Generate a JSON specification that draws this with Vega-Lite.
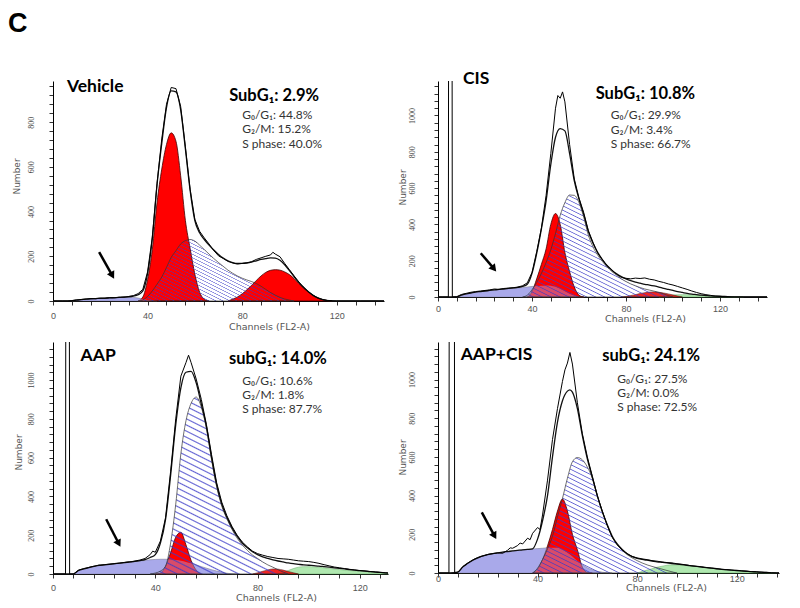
{
"$schema": "https://vega.github.io/schema/vega-lite/v6.json",
"title": {"text": "C", "anchor": "start", "font": "Liberation Sans", "fontSize": 27, "fontWeight": "bold", "color": "#000", "offset": 32, "dx": -4},
"padding": {"left": 8, "top": 10, "right": 5, "bottom": 5},
"columns": 2,
"spacing": {"row": 41, "column": 50},
"bounds": "flush",
"concat": [
{
"width": 331, "height": 220,
"data": {"values": [
{"x":0,"h":0,"f":0},{"x":2,"h":0,"f":0},{"x":4,"h":0,"f":0},{"x":6,"h":0,"f":0},
{"x":8,"h":2,"f":1,"d":0},{"x":10,"h":5,"f":4,"d":4},{"x":12,"h":7,"f":6,"d":6},{"x":14,"h":9,"f":8,"d":8},
{"x":16,"h":11,"f":10,"d":10},{"x":18,"h":10,"f":11,"d":11},{"x":20,"h":13,"f":12,"d":12},{"x":22,"h":12,"f":13,"d":13},
{"x":24,"h":15,"f":14,"d":14},{"x":26,"h":14,"f":15,"d":15},{"x":28,"h":17,"f":16,"d":16},{"x":30,"h":16,"f":18,"d":17},
{"x":32,"h":20,"f":19,"d":17},{"x":34,"h":24,"f":22,"d":16},{"x":36,"h":33,"f":28,"d":13,"g1":0,"s":0},
{"x":38,"h":52,"f":45,"d":9,"g1":18,"s":5},{"x":40,"h":130,"f":122,"d":5,"g1":95,"s":20},
{"x":42,"h":285,"f":280,"d":2,"g1":230,"s":45},{"x":44,"h":525,"f":520,"d":0,"g1":440,"s":75},
{"x":46,"h":725,"f":705,"g1":590,"s":107},{"x":48,"h":880,"f":865,"g1":700,"s":150},
{"x":50,"h":955,"f":940,"g1":752,"s":195},{"x":52,"h":950,"f":935,"g1":715,"s":225},
{"x":54,"h":870,"f":855,"g1":560,"s":255},{"x":56,"h":690,"f":680,"g1":360,"s":270},
{"x":58,"h":500,"f":495,"g1":235,"s":275},{"x":60,"h":365,"f":360,"g1":120,"s":268},
{"x":62,"h":312,"f":305,"g1":40,"s":250},{"x":64,"h":282,"f":275,"g1":8,"s":230},
{"x":66,"h":255,"f":250,"g1":0,"s":210},{"x":68,"h":226,"f":228,"s":190},{"x":70,"h":202,"f":208,"s":172},
{"x":72,"h":190,"f":192,"s":155},{"x":74,"h":177,"f":180,"s":138,"g2":0},{"x":76,"h":170,"f":172,"s":124,"g2":8},
{"x":78,"h":165,"f":168,"s":112,"g2":18},{"x":80,"h":168,"f":168,"s":102,"g2":32},{"x":82,"h":171,"f":170,"s":94,"g2":50},
{"x":84,"h":176,"f":174,"s":87,"g2":70},{"x":86,"h":186,"f":180,"s":78,"g2":92},{"x":88,"h":193,"f":186,"s":66,"g2":112},
{"x":90,"h":200,"f":190,"s":52,"g2":128},{"x":92,"h":206,"f":193,"s":38,"g2":137},{"x":93,"h":218},{"x":94,"h":210,"f":192,"s":26,"g2":140},
{"x":96,"h":198,"f":182,"s":16,"g2":138},{"x":98,"h":168,"f":162,"s":9,"g2":130},{"x":100,"h":140,"f":136,"s":4,"g2":118},
{"x":102,"h":112,"f":108,"s":0,"g2":100},{"x":104,"h":85,"f":82,"g2":78},{"x":106,"h":62,"f":60,"g2":58},
{"x":108,"h":42,"f":41,"g2":40},{"x":110,"h":26,"f":25,"g2":25},{"x":112,"h":14,"f":14,"g2":13},
{"x":114,"h":7,"f":6,"g2":6},{"x":116,"h":3,"f":2,"g2":2},{"x":118,"h":1,"f":0,"g2":0},
{"x":120,"h":0,"f":0},{"x":130,"h":0,"f":0},{"x":140,"h":0,"f":0}
]},
"layer": [
{"mark": {"type": "area", "interpolate": "monotone", "fill": "#a9a9ea", "stroke": "#666", "strokeWidth": 0.5},
 "encoding": {
  "x": {"field": "x", "type": "quantitative", "title": "Channels (FL2-A)", "scale": {"domain": [0, 140], "nice": false, "zero": false},
   "axis": {"values": [0,8,16,24,32,40,48,56,64,72,80,88,96,104,112,120,128,136], "labelExpr": "datum.value % 40 === 0 ? datum.label : ''", "labelPadding": 6, "titleX": 216, "titleY": 25}},
  "y": {"field": "d", "type": "quantitative", "title": "Number", "scale": {"domain": [0, 984], "nice": false},
  "axis": {"values": [0,40,80,120,160,200,240,280,320,360,400,440,480,520,560,600,640,680,720,760,800,840,880,920,960], "labelExpr": "datum.value % 200 === 0 ? datum.label : ''", "labelPadding": 14, "titleX": -37, "titleY": 95}}}},
{"mark": {"type": "area", "interpolate": "monotone", "fill": "#ff0000", "stroke": "#400000", "strokeWidth": 0.8},
 "encoding": {"x": {"field": "x", "type": "quantitative", "title": "Channels (FL2-A)"}, "y": {"field": "g1", "type": "quantitative", "title": "Number"}}},
{"mark": {"type": "area", "interpolate": "monotone", "fill": "#ff0000", "stroke": "#400000", "strokeWidth": 0.8},
 "encoding": {"x": {"field": "x", "type": "quantitative", "title": "Channels (FL2-A)"}, "y": {"field": "g2", "type": "quantitative", "title": "Number"}}},
{"mark": {"type": "area", "interpolate": "monotone", "fill": "#a9a9ea", "opacity": 0.45},
 "encoding": {"x": {"field": "x", "type": "quantitative", "title": "Channels (FL2-A)"}, "y": {"field": "d", "type": "quantitative", "title": "Number"}}},
{"mark": {"type": "area", "interpolate": "monotone", "stroke": "#333", "strokeWidth": 0.7,
  "fill": {"gradient": "linear", "x1": 0, "y1": 1, "x2": 1.103, "y2": 0.131, "stops": [
{"offset":0,"color":"rgba(60,60,200,0)"},{"offset":0.005,"color":"rgba(60,60,200,0.8)"},{"offset":0.01,"color":"rgba(60,60,200,0)"},{"offset":0.025,"color":"rgba(60,60,200,0)"},{"offset":0.03,"color":"rgba(60,60,200,0.8)"},{"offset":0.035,"color":"rgba(60,60,200,0)"},{"offset":0.05,"color":"rgba(60,60,200,0)"},{"offset":0.055,"color":"rgba(60,60,200,0.8)"},{"offset":0.06,"color":"rgba(60,60,200,0)"},{"offset":0.075,"color":"rgba(60,60,200,0)"},{"offset":0.08,"color":"rgba(60,60,200,0.8)"},{"offset":0.085,"color":"rgba(60,60,200,0)"},{"offset":0.1,"color":"rgba(60,60,200,0)"},{"offset":0.105,"color":"rgba(60,60,200,0.8)"},{"offset":0.11,"color":"rgba(60,60,200,0)"},{"offset":0.125,"color":"rgba(60,60,200,0)"},{"offset":0.13,"color":"rgba(60,60,200,0.8)"},{"offset":0.135,"color":"rgba(60,60,200,0)"},{"offset":0.15,"color":"rgba(60,60,200,0)"},{"offset":0.155,"color":"rgba(60,60,200,0.8)"},{"offset":0.16,"color":"rgba(60,60,200,0)"},{"offset":0.175,"color":"rgba(60,60,200,0)"},{"offset":0.18,"color":"rgba(60,60,200,0.8)"},{"offset":0.185,"color":"rgba(60,60,200,0)"},{"offset":0.2,"color":"rgba(60,60,200,0)"},{"offset":0.205,"color":"rgba(60,60,200,0.8)"},{"offset":0.21,"color":"rgba(60,60,200,0)"},{"offset":0.225,"color":"rgba(60,60,200,0)"},{"offset":0.23,"color":"rgba(60,60,200,0.8)"},{"offset":0.235,"color":"rgba(60,60,200,0)"},{"offset":0.25,"color":"rgba(60,60,200,0)"},{"offset":0.255,"color":"rgba(60,60,200,0.8)"},{"offset":0.26,"color":"rgba(60,60,200,0)"},{"offset":0.275,"color":"rgba(60,60,200,0)"},{"offset":0.28,"color":"rgba(60,60,200,0.8)"},{"offset":0.285,"color":"rgba(60,60,200,0)"},{"offset":0.3,"color":"rgba(60,60,200,0)"},{"offset":0.305,"color":"rgba(60,60,200,0.8)"},{"offset":0.31,"color":"rgba(60,60,200,0)"},{"offset":0.325,"color":"rgba(60,60,200,0)"},{"offset":0.33,"color":"rgba(60,60,200,0.8)"},{"offset":0.335,"color":"rgba(60,60,200,0)"},{"offset":0.35,"color":"rgba(60,60,200,0)"},{"offset":0.355,"color":"rgba(60,60,200,0.8)"},{"offset":0.36,"color":"rgba(60,60,200,0)"},{"offset":0.375,"color":"rgba(60,60,200,0)"},{"offset":0.38,"color":"rgba(60,60,200,0.8)"},{"offset":0.385,"color":"rgba(60,60,200,0)"},{"offset":0.4,"color":"rgba(60,60,200,0)"},{"offset":0.405,"color":"rgba(60,60,200,0.8)"},{"offset":0.41,"color":"rgba(60,60,200,0)"},{"offset":0.425,"color":"rgba(60,60,200,0)"},{"offset":0.43,"color":"rgba(60,60,200,0.8)"},{"offset":0.435,"color":"rgba(60,60,200,0)"},{"offset":0.45,"color":"rgba(60,60,200,0)"},{"offset":0.455,"color":"rgba(60,60,200,0.8)"},{"offset":0.46,"color":"rgba(60,60,200,0)"},{"offset":0.475,"color":"rgba(60,60,200,0)"},{"offset":0.48,"color":"rgba(60,60,200,0.8)"},{"offset":0.485,"color":"rgba(60,60,200,0)"},{"offset":0.5,"color":"rgba(60,60,200,0)"},{"offset":0.505,"color":"rgba(60,60,200,0.8)"},{"offset":0.51,"color":"rgba(60,60,200,0)"},{"offset":0.525,"color":"rgba(60,60,200,0)"},{"offset":0.53,"color":"rgba(60,60,200,0.8)"},{"offset":0.535,"color":"rgba(60,60,200,0)"},{"offset":0.55,"color":"rgba(60,60,200,0)"},{"offset":0.555,"color":"rgba(60,60,200,0.8)"},{"offset":0.56,"color":"rgba(60,60,200,0)"},{"offset":0.575,"color":"rgba(60,60,200,0)"},{"offset":0.58,"color":"rgba(60,60,200,0.8)"},{"offset":0.585,"color":"rgba(60,60,200,0)"},{"offset":0.6,"color":"rgba(60,60,200,0)"},{"offset":0.605,"color":"rgba(60,60,200,0.8)"},{"offset":0.61,"color":"rgba(60,60,200,0)"},{"offset":0.625,"color":"rgba(60,60,200,0)"},{"offset":0.63,"color":"rgba(60,60,200,0.8)"},{"offset":0.635,"color":"rgba(60,60,200,0)"},{"offset":0.65,"color":"rgba(60,60,200,0)"},{"offset":0.655,"color":"rgba(60,60,200,0.8)"},{"offset":0.66,"color":"rgba(60,60,200,0)"},{"offset":0.675,"color":"rgba(60,60,200,0)"},{"offset":0.68,"color":"rgba(60,60,200,0.8)"},{"offset":0.685,"color":"rgba(60,60,200,0)"},{"offset":0.7,"color":"rgba(60,60,200,0)"},{"offset":0.705,"color":"rgba(60,60,200,0.8)"},{"offset":0.71,"color":"rgba(60,60,200,0)"},{"offset":0.725,"color":"rgba(60,60,200,0)"},{"offset":0.73,"color":"rgba(60,60,200,0.8)"},{"offset":0.735,"color":"rgba(60,60,200,0)"},{"offset":0.75,"color":"rgba(60,60,200,0)"},{"offset":0.755,"color":"rgba(60,60,200,0.8)"},{"offset":0.76,"color":"rgba(60,60,200,0)"},{"offset":0.775,"color":"rgba(60,60,200,0)"},{"offset":0.78,"color":"rgba(60,60,200,0.8)"},{"offset":0.785,"color":"rgba(60,60,200,0)"},{"offset":0.8,"color":"rgba(60,60,200,0)"},{"offset":0.805,"color":"rgba(60,60,200,0.8)"},{"offset":0.81,"color":"rgba(60,60,200,0)"},{"offset":0.825,"color":"rgba(60,60,200,0)"},{"offset":0.83,"color":"rgba(60,60,200,0.8)"},{"offset":0.835,"color":"rgba(60,60,200,0)"},{"offset":0.85,"color":"rgba(60,60,200,0)"},{"offset":0.855,"color":"rgba(60,60,200,0.8)"},{"offset":0.86,"color":"rgba(60,60,200,0)"},{"offset":0.875,"color":"rgba(60,60,200,0)"},{"offset":0.88,"color":"rgba(60,60,200,0.8)"},{"offset":0.885,"color":"rgba(60,60,200,0)"},{"offset":0.9,"color":"rgba(60,60,200,0)"},{"offset":0.905,"color":"rgba(60,60,200,0.8)"},{"offset":0.91,"color":"rgba(60,60,200,0)"},{"offset":0.925,"color":"rgba(60,60,200,0)"},{"offset":0.93,"color":"rgba(60,60,200,0.8)"},{"offset":0.935,"color":"rgba(60,60,200,0)"},{"offset":0.95,"color":"rgba(60,60,200,0)"},{"offset":0.955,"color":"rgba(60,60,200,0.8)"},{"offset":0.96,"color":"rgba(60,60,200,0)"},{"offset":0.975,"color":"rgba(60,60,200,0)"},{"offset":0.98,"color":"rgba(60,60,200,0.8)"},{"offset":0.985,"color":"rgba(60,60,200,0)"},{"offset":1,"color":"rgba(60,60,200,0)"}]}},
 "encoding": {"x": {"field": "x", "type": "quantitative", "title": "Channels (FL2-A)"}, "y": {"field": "s", "type": "quantitative", "title": "Number"}}},
{"mark": {"type": "line", "interpolate": "monotone", "color": "#111", "strokeWidth": 1.3},
 "encoding": {"x": {"field": "x", "type": "quantitative", "title": "Channels (FL2-A)"}, "y": {"field": "f", "type": "quantitative", "title": "Number"}}},
{"mark": {"type": "line", "color": "#000", "strokeWidth": 1, "clip": true},
 "encoding": {"x": {"field": "x", "type": "quantitative", "title": "Channels (FL2-A)"}, "y": {"field": "h", "type": "quantitative", "title": "Number"}}},
{"data": {"values": [{"t": "Vehicle"}]},
 "mark": {"type": "text", "align": "left", "baseline": "alphabetic", "font": "Lato", "fontSize": 17.5, "fontWeight": "bold", "color": "#000"},
 "encoding": {"x": {"datum": 5.9}, "y": {"datum": 934}, "text": {"field": "t"}}},
{"data": {"values": [{"t": "SubG₁: 2.9%"}]},
 "mark": {"type": "text", "align": "left", "baseline": "alphabetic", "font": "Lato", "fontSize": 16.5, "fontWeight": "bold", "color": "#000"},
 "encoding": {"x": {"datum": 74.5}, "y": {"datum": 893}, "text": {"field": "t"}}},
{"data": {"values": [{"t": "G₀/G₁: 44.8%\nG₂/M: 15.2%\nS phase: 40.0%"}]},
 "mark": {"type": "text", "align": "left", "baseline": "alphabetic", "font": "Lato", "fontSize": 12, "color": "#333", "lineBreak": "\n", "lineHeight": 14.2},
 "encoding": {"x": {"datum": 80}, "y": {"datum": 813}, "text": {"field": "t"}}},
{"data": {"values": [{"k": "arrow"}]},
 "mark": {"type": "rule", "color": "#000", "strokeWidth": 2.5},
 "encoding": {"x": {"datum": 19.5}, "y": {"datum": 219}, "x2": {"datum": 25.1}, "y2": {"datum": 114}}},
{"data": {"values": [{"k": "arrow"}]},
 "mark": {"type": "point", "shape": "triangle-down", "filled": true, "color": "#000", "opacity": 1, "size": 70, "angle": 331},
 "encoding": {"x": {"datum": 25.1}, "y": {"datum": 114}}}
]
},
{
"width": 329, "height": 216,
"data": {"values": [
{"x":0,"h":0,"f":0},{"x":2,"h":0,"f":0},{"x":4.4,"h":0,"f":0},{"x":4.5,"h":1400},{"x":6,"h":1400},{"x":6.1,"h":0},
{"x":8,"h":2,"f":1,"d":0},{"x":10,"h":14,"f":10,"d":10},{"x":12,"h":20,"f":17,"d":16},{"x":14,"h":26,"f":22,"d":22},
{"x":16,"h":30,"f":27,"d":26},{"x":18,"h":33,"f":30,"d":30},{"x":20,"h":36,"f":33,"d":33},{"x":22,"h":39,"f":36,"d":36},
{"x":24,"h":44,"f":39,"d":39},{"x":26,"h":42,"f":42,"d":42},{"x":28,"h":47,"f":44,"d":44},{"x":30,"h":49,"f":47,"d":46},
{"x":32,"h":51,"f":50,"d":48},{"x":34,"h":55,"f":53,"d":50},{"x":36,"h":62,"f":58,"d":52,"s":0},
{"x":38,"h":78,"f":70,"d":55,"g1":0,"s":10},{"x":40,"h":135,"f":130,"d":58,"g1":30,"s":40},
{"x":42,"h":250,"f":240,"d":60,"g1":100,"s":80},{"x":44,"h":380,"f":375,"d":62,"g1":180,"s":130},
{"x":46,"h":560,"f":530,"d":64,"g1":265,"s":190},{"x":48,"h":790,"f":730,"d":62,"g1":400,"s":260},
{"x":50,"h":1040,"f":880,"d":56,"g1":460,"s":350},{"x":51,"h":1110},{"x":52,"h":1095,"f":928,"d":45,"g1":400,"s":450},
{"x":53,"h":1130},{"x":54,"h":1075,"f":915,"d":32,"g1":245,"s":520},{"x":56,"h":840,"f":790,"d":18,"g1":140,"s":562},
{"x":58,"h":650,"f":640,"d":8,"g1":55,"s":560},{"x":60,"h":545,"f":540,"d":2,"g1":10,"s":520},
{"x":62,"h":465,"f":455,"d":0,"g1":0,"s":440},{"x":64,"h":365,"f":360,"s":340},{"x":66,"h":300,"f":295,"s":275},
{"x":68,"h":240,"f":245,"s":230},{"x":70,"h":205,"f":205,"s":195},{"x":72,"h":172,"f":172,"s":165},
{"x":74,"h":148,"f":148,"s":140},{"x":76,"h":125,"f":128,"s":120},{"x":78,"h":108,"f":112,"s":100,"g2":0},
{"x":80,"h":103,"f":100,"s":85,"g2":3},{"x":82,"h":100,"f":90,"s":72,"g2":8},{"x":84,"h":104,"f":82,"s":62,"g2":13},
{"x":86,"h":102,"f":76,"s":52,"g2":19},{"x":88,"h":105,"f":70,"s":44,"g2":24},{"x":90,"h":98,"f":66,"s":38,"g2":27},
{"x":92,"h":94,"f":61,"s":32,"g2":28},{"x":94,"h":86,"f":55,"s":25,"g2":26,"a":0},{"x":96,"h":80,"f":48,"s":17,"g2":22,"a":4},
{"x":98,"h":72,"f":42,"s":8,"g2":17,"a":8},{"x":100,"h":66,"f":36,"s":0,"g2":11,"a":11},{"x":102,"h":58,"f":30,"g2":5,"a":12},
{"x":104,"h":50,"f":25,"g2":0,"a":13},{"x":106,"h":42,"f":20,"a":13},{"x":108,"h":33,"f":16,"a":12},
{"x":110,"h":25,"f":13,"a":11},{"x":112,"h":18,"f":10,"a":10},{"x":114,"h":13,"f":8,"a":8},{"x":116,"h":9,"f":6,"a":6},
{"x":118,"h":5,"f":5,"a":5},{"x":120,"h":3,"f":4,"a":4},{"x":122,"h":1,"f":3,"a":3},{"x":126,"h":0,"f":1,"a":1},
{"x":130,"h":0,"f":0,"a":0},{"x":140,"h":0,"f":0}
]},
"layer": [
{"mark": {"type": "area", "interpolate": "monotone", "fill": "#a9a9ea", "stroke": "#666", "strokeWidth": 0.5},
 "encoding": {
  "x": {"field": "x", "type": "quantitative", "title": "Channels (FL2-A)", "scale": {"domain": [0, 140], "nice": false, "zero": false},
   "axis": {"values": [0,8,16,24,32,40,48,56,64,72,80,88,96,104,112,120,128,136], "labelExpr": "datum.value % 40 === 0 ? datum.label : ''", "labelPadding": 3, "titleX": 207, "titleY": 21}},
  "y": {"field": "d", "type": "quantitative", "title": "Number", "scale": {"domain": [0, 1190], "nice": false},
  "axis": {"values": [0,40,80,120,160,200,240,280,320,360,400,440,480,520,560,600,640,680,720,760,800,840,880,920,960,1000,1040,1080,1120,1160], "labelExpr": "datum.value % 200 === 0 ? datum.label : ''", "labelPadding": 18, "titleX": -36, "titleY": 106}}}},
{"mark": {"type": "area", "interpolate": "monotone", "fill": "#b0e8b0", "stroke": "#6a6", "strokeWidth": 0.5},
 "encoding": {"x": {"field": "x", "type": "quantitative", "title": "Channels (FL2-A)"}, "y": {"field": "a", "type": "quantitative", "title": "Number"}}},
{"mark": {"type": "area", "interpolate": "monotone", "fill": "#ff0000", "stroke": "#400000", "strokeWidth": 0.8},
 "encoding": {"x": {"field": "x", "type": "quantitative", "title": "Channels (FL2-A)"}, "y": {"field": "g1", "type": "quantitative", "title": "Number"}}},
{"mark": {"type": "area", "interpolate": "monotone", "fill": "#ee0000", "stroke": "#400000", "strokeWidth": 0.6, "opacity": 0.85},
 "encoding": {"x": {"field": "x", "type": "quantitative", "title": "Channels (FL2-A)"}, "y": {"field": "g2", "type": "quantitative", "title": "Number"}}},
{"mark": {"type": "area", "interpolate": "monotone", "fill": "#a9a9ea", "opacity": 0.45},
 "encoding": {"x": {"field": "x", "type": "quantitative", "title": "Channels (FL2-A)"}, "y": {"field": "d", "type": "quantitative", "title": "Number"}}},
{"mark": {"type": "area", "interpolate": "monotone", "stroke": "#333", "strokeWidth": 0.7,
  "fill": {"gradient": "linear", "x1": 0, "y1": 1, "x2": 0.822, "y2": -0.129, "stops": [
{"offset":0,"color":"rgba(60,60,200,0)"},{"offset":0.005,"color":"rgba(60,60,200,0.8)"},{"offset":0.01,"color":"rgba(60,60,200,0)"},{"offset":0.025,"color":"rgba(60,60,200,0)"},{"offset":0.03,"color":"rgba(60,60,200,0.8)"},{"offset":0.035,"color":"rgba(60,60,200,0)"},{"offset":0.05,"color":"rgba(60,60,200,0)"},{"offset":0.055,"color":"rgba(60,60,200,0.8)"},{"offset":0.06,"color":"rgba(60,60,200,0)"},{"offset":0.075,"color":"rgba(60,60,200,0)"},{"offset":0.08,"color":"rgba(60,60,200,0.8)"},{"offset":0.085,"color":"rgba(60,60,200,0)"},{"offset":0.1,"color":"rgba(60,60,200,0)"},{"offset":0.105,"color":"rgba(60,60,200,0.8)"},{"offset":0.11,"color":"rgba(60,60,200,0)"},{"offset":0.125,"color":"rgba(60,60,200,0)"},{"offset":0.13,"color":"rgba(60,60,200,0.8)"},{"offset":0.135,"color":"rgba(60,60,200,0)"},{"offset":0.15,"color":"rgba(60,60,200,0)"},{"offset":0.155,"color":"rgba(60,60,200,0.8)"},{"offset":0.16,"color":"rgba(60,60,200,0)"},{"offset":0.175,"color":"rgba(60,60,200,0)"},{"offset":0.18,"color":"rgba(60,60,200,0.8)"},{"offset":0.185,"color":"rgba(60,60,200,0)"},{"offset":0.2,"color":"rgba(60,60,200,0)"},{"offset":0.205,"color":"rgba(60,60,200,0.8)"},{"offset":0.21,"color":"rgba(60,60,200,0)"},{"offset":0.225,"color":"rgba(60,60,200,0)"},{"offset":0.23,"color":"rgba(60,60,200,0.8)"},{"offset":0.235,"color":"rgba(60,60,200,0)"},{"offset":0.25,"color":"rgba(60,60,200,0)"},{"offset":0.255,"color":"rgba(60,60,200,0.8)"},{"offset":0.26,"color":"rgba(60,60,200,0)"},{"offset":0.275,"color":"rgba(60,60,200,0)"},{"offset":0.28,"color":"rgba(60,60,200,0.8)"},{"offset":0.285,"color":"rgba(60,60,200,0)"},{"offset":0.3,"color":"rgba(60,60,200,0)"},{"offset":0.305,"color":"rgba(60,60,200,0.8)"},{"offset":0.31,"color":"rgba(60,60,200,0)"},{"offset":0.325,"color":"rgba(60,60,200,0)"},{"offset":0.33,"color":"rgba(60,60,200,0.8)"},{"offset":0.335,"color":"rgba(60,60,200,0)"},{"offset":0.35,"color":"rgba(60,60,200,0)"},{"offset":0.355,"color":"rgba(60,60,200,0.8)"},{"offset":0.36,"color":"rgba(60,60,200,0)"},{"offset":0.375,"color":"rgba(60,60,200,0)"},{"offset":0.38,"color":"rgba(60,60,200,0.8)"},{"offset":0.385,"color":"rgba(60,60,200,0)"},{"offset":0.4,"color":"rgba(60,60,200,0)"},{"offset":0.405,"color":"rgba(60,60,200,0.8)"},{"offset":0.41,"color":"rgba(60,60,200,0)"},{"offset":0.425,"color":"rgba(60,60,200,0)"},{"offset":0.43,"color":"rgba(60,60,200,0.8)"},{"offset":0.435,"color":"rgba(60,60,200,0)"},{"offset":0.45,"color":"rgba(60,60,200,0)"},{"offset":0.455,"color":"rgba(60,60,200,0.8)"},{"offset":0.46,"color":"rgba(60,60,200,0)"},{"offset":0.475,"color":"rgba(60,60,200,0)"},{"offset":0.48,"color":"rgba(60,60,200,0.8)"},{"offset":0.485,"color":"rgba(60,60,200,0)"},{"offset":0.5,"color":"rgba(60,60,200,0)"},{"offset":0.505,"color":"rgba(60,60,200,0.8)"},{"offset":0.51,"color":"rgba(60,60,200,0)"},{"offset":0.525,"color":"rgba(60,60,200,0)"},{"offset":0.53,"color":"rgba(60,60,200,0.8)"},{"offset":0.535,"color":"rgba(60,60,200,0)"},{"offset":0.55,"color":"rgba(60,60,200,0)"},{"offset":0.555,"color":"rgba(60,60,200,0.8)"},{"offset":0.56,"color":"rgba(60,60,200,0)"},{"offset":0.575,"color":"rgba(60,60,200,0)"},{"offset":0.58,"color":"rgba(60,60,200,0.8)"},{"offset":0.585,"color":"rgba(60,60,200,0)"},{"offset":0.6,"color":"rgba(60,60,200,0)"},{"offset":0.605,"color":"rgba(60,60,200,0.8)"},{"offset":0.61,"color":"rgba(60,60,200,0)"},{"offset":0.625,"color":"rgba(60,60,200,0)"},{"offset":0.63,"color":"rgba(60,60,200,0.8)"},{"offset":0.635,"color":"rgba(60,60,200,0)"},{"offset":0.65,"color":"rgba(60,60,200,0)"},{"offset":0.655,"color":"rgba(60,60,200,0.8)"},{"offset":0.66,"color":"rgba(60,60,200,0)"},{"offset":0.675,"color":"rgba(60,60,200,0)"},{"offset":0.68,"color":"rgba(60,60,200,0.8)"},{"offset":0.685,"color":"rgba(60,60,200,0)"},{"offset":0.7,"color":"rgba(60,60,200,0)"},{"offset":0.705,"color":"rgba(60,60,200,0.8)"},{"offset":0.71,"color":"rgba(60,60,200,0)"},{"offset":0.725,"color":"rgba(60,60,200,0)"},{"offset":0.73,"color":"rgba(60,60,200,0.8)"},{"offset":0.735,"color":"rgba(60,60,200,0)"},{"offset":0.75,"color":"rgba(60,60,200,0)"},{"offset":0.755,"color":"rgba(60,60,200,0.8)"},{"offset":0.76,"color":"rgba(60,60,200,0)"},{"offset":0.775,"color":"rgba(60,60,200,0)"},{"offset":0.78,"color":"rgba(60,60,200,0.8)"},{"offset":0.785,"color":"rgba(60,60,200,0)"},{"offset":0.8,"color":"rgba(60,60,200,0)"},{"offset":0.805,"color":"rgba(60,60,200,0.8)"},{"offset":0.81,"color":"rgba(60,60,200,0)"},{"offset":0.825,"color":"rgba(60,60,200,0)"},{"offset":0.83,"color":"rgba(60,60,200,0.8)"},{"offset":0.835,"color":"rgba(60,60,200,0)"},{"offset":0.85,"color":"rgba(60,60,200,0)"},{"offset":0.855,"color":"rgba(60,60,200,0.8)"},{"offset":0.86,"color":"rgba(60,60,200,0)"},{"offset":0.875,"color":"rgba(60,60,200,0)"},{"offset":0.88,"color":"rgba(60,60,200,0.8)"},{"offset":0.885,"color":"rgba(60,60,200,0)"},{"offset":0.9,"color":"rgba(60,60,200,0)"},{"offset":0.905,"color":"rgba(60,60,200,0.8)"},{"offset":0.91,"color":"rgba(60,60,200,0)"},{"offset":0.925,"color":"rgba(60,60,200,0)"},{"offset":0.93,"color":"rgba(60,60,200,0.8)"},{"offset":0.935,"color":"rgba(60,60,200,0)"},{"offset":0.95,"color":"rgba(60,60,200,0)"},{"offset":0.955,"color":"rgba(60,60,200,0.8)"},{"offset":0.96,"color":"rgba(60,60,200,0)"},{"offset":0.975,"color":"rgba(60,60,200,0)"},{"offset":0.98,"color":"rgba(60,60,200,0.8)"},{"offset":0.985,"color":"rgba(60,60,200,0)"},{"offset":1,"color":"rgba(60,60,200,0)"}]}},
 "encoding": {"x": {"field": "x", "type": "quantitative", "title": "Channels (FL2-A)"}, "y": {"field": "s", "type": "quantitative", "title": "Number"}}},
{"mark": {"type": "line", "interpolate": "monotone", "color": "#111", "strokeWidth": 1.3},
 "encoding": {"x": {"field": "x", "type": "quantitative", "title": "Channels (FL2-A)"}, "y": {"field": "f", "type": "quantitative", "title": "Number"}}},
{"mark": {"type": "line", "color": "#000", "strokeWidth": 1, "clip": true},
 "encoding": {"x": {"field": "x", "type": "quantitative", "title": "Channels (FL2-A)"}, "y": {"field": "h", "type": "quantitative", "title": "Number"}}},
{"data": {"values": [{"t": "CIS"}]},
 "mark": {"type": "text", "align": "left", "baseline": "alphabetic", "font": "Lato", "fontSize": 17.5, "fontWeight": "bold", "color": "#000"},
 "encoding": {"x": {"datum": 10.6}, "y": {"datum": 1172}, "text": {"field": "t"}}},
{"data": {"values": [{"t": "SubG₁: 10.8%"}]},
 "mark": {"type": "text", "align": "left", "baseline": "alphabetic", "font": "Lato", "fontSize": 16.5, "fontWeight": "bold", "color": "#000"},
 "encoding": {"x": {"datum": 67.1}, "y": {"datum": 1089}, "text": {"field": "t"}}},
{"data": {"values": [{"t": "G₀/G₁: 29.9%\nG₂/M: 3.4%\nS phase: 66.7%"}]},
 "mark": {"type": "text", "align": "left", "baseline": "alphabetic", "font": "Lato", "fontSize": 12, "color": "#333", "lineBreak": "\n", "lineHeight": 14.2},
 "encoding": {"x": {"datum": 73.5}, "y": {"datum": 978}, "text": {"field": "t"}}},
{"data": {"values": [{"k": "arrow"}]},
 "mark": {"type": "rule", "color": "#000", "strokeWidth": 2.5},
 "encoding": {"x": {"datum": 18.2}, "y": {"datum": 241}, "x2": {"datum": 23.8}, "y2": {"datum": 156}}},
{"data": {"values": [{"k": "arrow"}]},
 "mark": {"type": "point", "shape": "triangle-down", "filled": true, "color": "#000", "opacity": 1, "size": 70, "angle": 321},
 "encoding": {"x": {"datum": 23.8}, "y": {"datum": 156}}}
]
},
{
"width": 335, "height": 232,
"data": {"values": [
{"x":0,"h":0,"f":0},{"x":2,"h":0,"f":0},{"x":4.9,"h":0,"f":0},{"x":5,"h":1400},{"x":6.4,"h":1400},{"x":6.5,"h":0},
{"x":8,"h":0,"f":0,"d":0},{"x":10,"h":20,"f":18,"d":18},{"x":12,"h":28,"f":26,"d":25},{"x":14,"h":34,"f":33,"d":32},
{"x":16,"h":40,"f":39,"d":38},{"x":18,"h":46,"f":44,"d":43},{"x":20,"h":48,"f":47,"d":46},{"x":22,"h":51,"f":50,"d":49},
{"x":24,"h":53,"f":53,"d":52},{"x":26,"h":56,"f":56,"d":55},{"x":28,"h":60,"f":59,"d":58},{"x":30,"h":62,"f":62,"d":61},
{"x":32,"h":67,"f":65,"d":64},{"x":34,"h":72,"f":69,"d":67},{"x":36,"h":80,"f":74,"d":70},{"x":38,"h":100,"f":85,"d":73,"s":0},
{"x":39,"h":118},{"x":40,"h":112,"f":100,"d":75,"s":5,"g1":0},{"x":42,"h":170,"f":160,"d":76,"s":15,"g1":5},
{"x":44,"h":290,"f":280,"d":76,"s":40,"g1":40},{"x":46,"h":530,"f":510,"d":75,"s":160,"g1":110},
{"x":48,"h":800,"f":770,"d":72,"s":360,"g1":190},{"x":50,"h":1020,"f":960,"d":68,"s":620,"g1":215},
{"x":52,"h":1090,"f":1040,"d":62,"s":790,"g1":150},{"x":53,"h":1128},{"x":54,"h":1090,"f":1045,"d":55,"s":880,"g1":70},
{"x":56,"h":1005,"f":985,"d":47,"s":912,"g1":20},{"x":58,"h":900,"f":875,"d":38,"s":860,"g1":0},
{"x":60,"h":770,"f":760,"d":30,"s":750},{"x":62,"h":615,"f":600,"d":22,"s":590},{"x":64,"h":470,"f":460,"d":15,"s":450},
{"x":66,"h":370,"f":360,"d":9,"s":350},{"x":68,"h":300,"f":292,"d":4,"s":285},{"x":70,"h":245,"f":238,"d":1,"s":230},
{"x":72,"h":200,"f":195,"d":0,"s":185},{"x":74,"h":165,"f":160,"s":150},{"x":76,"h":140,"f":135,"s":122},
{"x":78,"h":118,"f":115,"s":98,"g2":0},{"x":80,"h":105,"f":100,"s":80,"g2":6},{"x":82,"h":97,"f":88,"s":62,"g2":14},
{"x":84,"h":90,"f":80,"s":47,"g2":21},{"x":86,"h":85,"f":73,"s":35,"g2":26},{"x":88,"h":80,"f":67,"s":22,"g2":25,"a":0},
{"x":90,"h":78,"f":62,"s":10,"g2":20,"a":8},{"x":92,"h":76,"f":57,"s":0,"g2":13,"a":18},{"x":94,"h":72,"f":53,"g2":6,"a":28},
{"x":96,"h":68,"f":50,"g2":0,"a":35},{"x":98,"h":66,"f":47,"a":38},{"x":100,"h":64,"f":45,"a":38},{"x":102,"h":60,"f":43,"a":37},
{"x":104,"h":55,"f":41,"a":35},{"x":106,"h":48,"f":38,"a":32},{"x":108,"h":42,"f":35,"a":29},{"x":110,"h":36,"f":32,"a":26},
{"x":112,"h":32,"f":29,"a":23},{"x":114,"h":28,"f":26,"a":20},{"x":116,"h":24,"f":23,"a":18},{"x":118,"h":21,"f":20,"a":16},
{"x":120,"h":18,"f":17,"a":14},{"x":122,"h":16,"f":15,"a":12},{"x":124,"h":13,"f":12,"a":10},{"x":126,"h":11,"f":10,"a":8},
{"x":128,"h":8,"f":8,"a":6},{"x":130,"h":6,"f":6,"a":5},{"x":131,"h":5,"f":5,"a":4}
]},
"layer": [
{"mark": {"type": "area", "interpolate": "monotone", "fill": "#a9a9ea", "stroke": "#666", "strokeWidth": 0.5},
 "encoding": {
  "x": {"field": "x", "type": "quantitative", "title": "Channels (FL2-A)", "scale": {"domain": [0, 131], "nice": false, "zero": false},
   "axis": {"values": [0,8,16,24,32,40,48,56,64,72,80,88,96,104,112,120,128], "labelExpr": "datum.value % 40 === 0 ? datum.label : ''", "labelPadding": 5, "titleX": 223, "titleY": 23}},
  "y": {"field": "d", "type": "quantitative", "title": "Number", "scale": {"domain": [0, 1196], "nice": false},
  "axis": {"values": [0,40,80,120,160,200,240,280,320,360,400,440,480,520,560,600,640,680,720,760,800,840,880,920,960,1000,1040,1080,1120,1160], "labelExpr": "datum.value % 200 === 0 ? datum.label : ''", "labelPadding": 14, "titleX": -35, "titleY": 110}}}},
{"mark": {"type": "area", "interpolate": "monotone", "fill": "#b0e8b0", "stroke": "#6a6", "strokeWidth": 0.5},
 "encoding": {"x": {"field": "x", "type": "quantitative", "title": "Channels (FL2-A)"}, "y": {"field": "a", "type": "quantitative", "title": "Number"}}},
{"mark": {"type": "area", "interpolate": "monotone", "fill": "#ff0000", "stroke": "#400000", "strokeWidth": 0.8},
 "encoding": {"x": {"field": "x", "type": "quantitative", "title": "Channels (FL2-A)"}, "y": {"field": "g1", "type": "quantitative", "title": "Number"}}},
{"mark": {"type": "area", "interpolate": "monotone", "fill": "#ee0000", "stroke": "#400000", "strokeWidth": 0.6, "opacity": 0.85},
 "encoding": {"x": {"field": "x", "type": "quantitative", "title": "Channels (FL2-A)"}, "y": {"field": "g2", "type": "quantitative", "title": "Number"}}},
{"mark": {"type": "area", "interpolate": "monotone", "fill": "#a9a9ea", "opacity": 0.45},
 "encoding": {"x": {"field": "x", "type": "quantitative", "title": "Channels (FL2-A)"}, "y": {"field": "d", "type": "quantitative", "title": "Number"}}},
{"mark": {"type": "area", "interpolate": "monotone", "stroke": "#333", "strokeWidth": 0.7,
  "fill": {"gradient": "linear", "x1": 0, "y1": 1, "x2": 0.47, "y2": -0.206, "stops": [
{"offset":0,"color":"rgba(60,60,200,0)"},{"offset":0.005,"color":"rgba(60,60,200,0.8)"},{"offset":0.01,"color":"rgba(60,60,200,0)"},{"offset":0.025,"color":"rgba(60,60,200,0)"},{"offset":0.03,"color":"rgba(60,60,200,0.8)"},{"offset":0.035,"color":"rgba(60,60,200,0)"},{"offset":0.05,"color":"rgba(60,60,200,0)"},{"offset":0.055,"color":"rgba(60,60,200,0.8)"},{"offset":0.06,"color":"rgba(60,60,200,0)"},{"offset":0.075,"color":"rgba(60,60,200,0)"},{"offset":0.08,"color":"rgba(60,60,200,0.8)"},{"offset":0.085,"color":"rgba(60,60,200,0)"},{"offset":0.1,"color":"rgba(60,60,200,0)"},{"offset":0.105,"color":"rgba(60,60,200,0.8)"},{"offset":0.11,"color":"rgba(60,60,200,0)"},{"offset":0.125,"color":"rgba(60,60,200,0)"},{"offset":0.13,"color":"rgba(60,60,200,0.8)"},{"offset":0.135,"color":"rgba(60,60,200,0)"},{"offset":0.15,"color":"rgba(60,60,200,0)"},{"offset":0.155,"color":"rgba(60,60,200,0.8)"},{"offset":0.16,"color":"rgba(60,60,200,0)"},{"offset":0.175,"color":"rgba(60,60,200,0)"},{"offset":0.18,"color":"rgba(60,60,200,0.8)"},{"offset":0.185,"color":"rgba(60,60,200,0)"},{"offset":0.2,"color":"rgba(60,60,200,0)"},{"offset":0.205,"color":"rgba(60,60,200,0.8)"},{"offset":0.21,"color":"rgba(60,60,200,0)"},{"offset":0.225,"color":"rgba(60,60,200,0)"},{"offset":0.23,"color":"rgba(60,60,200,0.8)"},{"offset":0.235,"color":"rgba(60,60,200,0)"},{"offset":0.25,"color":"rgba(60,60,200,0)"},{"offset":0.255,"color":"rgba(60,60,200,0.8)"},{"offset":0.26,"color":"rgba(60,60,200,0)"},{"offset":0.275,"color":"rgba(60,60,200,0)"},{"offset":0.28,"color":"rgba(60,60,200,0.8)"},{"offset":0.285,"color":"rgba(60,60,200,0)"},{"offset":0.3,"color":"rgba(60,60,200,0)"},{"offset":0.305,"color":"rgba(60,60,200,0.8)"},{"offset":0.31,"color":"rgba(60,60,200,0)"},{"offset":0.325,"color":"rgba(60,60,200,0)"},{"offset":0.33,"color":"rgba(60,60,200,0.8)"},{"offset":0.335,"color":"rgba(60,60,200,0)"},{"offset":0.35,"color":"rgba(60,60,200,0)"},{"offset":0.355,"color":"rgba(60,60,200,0.8)"},{"offset":0.36,"color":"rgba(60,60,200,0)"},{"offset":0.375,"color":"rgba(60,60,200,0)"},{"offset":0.38,"color":"rgba(60,60,200,0.8)"},{"offset":0.385,"color":"rgba(60,60,200,0)"},{"offset":0.4,"color":"rgba(60,60,200,0)"},{"offset":0.405,"color":"rgba(60,60,200,0.8)"},{"offset":0.41,"color":"rgba(60,60,200,0)"},{"offset":0.425,"color":"rgba(60,60,200,0)"},{"offset":0.43,"color":"rgba(60,60,200,0.8)"},{"offset":0.435,"color":"rgba(60,60,200,0)"},{"offset":0.45,"color":"rgba(60,60,200,0)"},{"offset":0.455,"color":"rgba(60,60,200,0.8)"},{"offset":0.46,"color":"rgba(60,60,200,0)"},{"offset":0.475,"color":"rgba(60,60,200,0)"},{"offset":0.48,"color":"rgba(60,60,200,0.8)"},{"offset":0.485,"color":"rgba(60,60,200,0)"},{"offset":0.5,"color":"rgba(60,60,200,0)"},{"offset":0.505,"color":"rgba(60,60,200,0.8)"},{"offset":0.51,"color":"rgba(60,60,200,0)"},{"offset":0.525,"color":"rgba(60,60,200,0)"},{"offset":0.53,"color":"rgba(60,60,200,0.8)"},{"offset":0.535,"color":"rgba(60,60,200,0)"},{"offset":0.55,"color":"rgba(60,60,200,0)"},{"offset":0.555,"color":"rgba(60,60,200,0.8)"},{"offset":0.56,"color":"rgba(60,60,200,0)"},{"offset":0.575,"color":"rgba(60,60,200,0)"},{"offset":0.58,"color":"rgba(60,60,200,0.8)"},{"offset":0.585,"color":"rgba(60,60,200,0)"},{"offset":0.6,"color":"rgba(60,60,200,0)"},{"offset":0.605,"color":"rgba(60,60,200,0.8)"},{"offset":0.61,"color":"rgba(60,60,200,0)"},{"offset":0.625,"color":"rgba(60,60,200,0)"},{"offset":0.63,"color":"rgba(60,60,200,0.8)"},{"offset":0.635,"color":"rgba(60,60,200,0)"},{"offset":0.65,"color":"rgba(60,60,200,0)"},{"offset":0.655,"color":"rgba(60,60,200,0.8)"},{"offset":0.66,"color":"rgba(60,60,200,0)"},{"offset":0.675,"color":"rgba(60,60,200,0)"},{"offset":0.68,"color":"rgba(60,60,200,0.8)"},{"offset":0.685,"color":"rgba(60,60,200,0)"},{"offset":0.7,"color":"rgba(60,60,200,0)"},{"offset":0.705,"color":"rgba(60,60,200,0.8)"},{"offset":0.71,"color":"rgba(60,60,200,0)"},{"offset":0.725,"color":"rgba(60,60,200,0)"},{"offset":0.73,"color":"rgba(60,60,200,0.8)"},{"offset":0.735,"color":"rgba(60,60,200,0)"},{"offset":0.75,"color":"rgba(60,60,200,0)"},{"offset":0.755,"color":"rgba(60,60,200,0.8)"},{"offset":0.76,"color":"rgba(60,60,200,0)"},{"offset":0.775,"color":"rgba(60,60,200,0)"},{"offset":0.78,"color":"rgba(60,60,200,0.8)"},{"offset":0.785,"color":"rgba(60,60,200,0)"},{"offset":0.8,"color":"rgba(60,60,200,0)"},{"offset":0.805,"color":"rgba(60,60,200,0.8)"},{"offset":0.81,"color":"rgba(60,60,200,0)"},{"offset":0.825,"color":"rgba(60,60,200,0)"},{"offset":0.83,"color":"rgba(60,60,200,0.8)"},{"offset":0.835,"color":"rgba(60,60,200,0)"},{"offset":0.85,"color":"rgba(60,60,200,0)"},{"offset":0.855,"color":"rgba(60,60,200,0.8)"},{"offset":0.86,"color":"rgba(60,60,200,0)"},{"offset":0.875,"color":"rgba(60,60,200,0)"},{"offset":0.88,"color":"rgba(60,60,200,0.8)"},{"offset":0.885,"color":"rgba(60,60,200,0)"},{"offset":0.9,"color":"rgba(60,60,200,0)"},{"offset":0.905,"color":"rgba(60,60,200,0.8)"},{"offset":0.91,"color":"rgba(60,60,200,0)"},{"offset":0.925,"color":"rgba(60,60,200,0)"},{"offset":0.93,"color":"rgba(60,60,200,0.8)"},{"offset":0.935,"color":"rgba(60,60,200,0)"},{"offset":0.95,"color":"rgba(60,60,200,0)"},{"offset":0.955,"color":"rgba(60,60,200,0.8)"},{"offset":0.96,"color":"rgba(60,60,200,0)"},{"offset":0.975,"color":"rgba(60,60,200,0)"},{"offset":0.98,"color":"rgba(60,60,200,0.8)"},{"offset":0.985,"color":"rgba(60,60,200,0)"},{"offset":1,"color":"rgba(60,60,200,0)"}]}},
 "encoding": {"x": {"field": "x", "type": "quantitative", "title": "Channels (FL2-A)"}, "y": {"field": "s", "type": "quantitative", "title": "Number"}}},
{"mark": {"type": "line", "interpolate": "monotone", "color": "#111", "strokeWidth": 1.3},
 "encoding": {"x": {"field": "x", "type": "quantitative", "title": "Channels (FL2-A)"}, "y": {"field": "f", "type": "quantitative", "title": "Number"}}},
{"mark": {"type": "line", "color": "#000", "strokeWidth": 1, "clip": true},
 "encoding": {"x": {"field": "x", "type": "quantitative", "title": "Channels (FL2-A)"}, "y": {"field": "h", "type": "quantitative", "title": "Number"}}},
{"data": {"values": [{"t": "AAP"}]},
 "mark": {"type": "text", "align": "left", "baseline": "alphabetic", "font": "Lato", "fontSize": 17.5, "fontWeight": "bold", "color": "#000"},
 "encoding": {"x": {"datum": 10.8}, "y": {"datum": 1098}, "text": {"field": "t"}}},
{"data": {"values": [{"t": "subG₁: 14.0%"}]},
 "mark": {"type": "text", "align": "left", "baseline": "alphabetic", "font": "Lato", "fontSize": 16.5, "fontWeight": "bold", "color": "#000"},
 "encoding": {"x": {"datum": 68.8}, "y": {"datum": 1085}, "text": {"field": "t"}}},
{"data": {"values": [{"t": "G₀/G₁: 10.6%\nG₂/M: 1.8%\nS phase: 87.7%"}]},
 "mark": {"type": "text", "align": "left", "baseline": "alphabetic", "font": "Lato", "fontSize": 12, "color": "#333", "lineBreak": "\n", "lineHeight": 14.2},
 "encoding": {"x": {"datum": 74}, "y": {"datum": 976}, "text": {"field": "t"}}},
{"data": {"values": [{"k": "arrow"}]},
 "mark": {"type": "rule", "color": "#000", "strokeWidth": 2.5},
 "encoding": {"x": {"datum": 20.8}, "y": {"datum": 282}, "x2": {"datum": 25.7}, "y2": {"datum": 157}}},
{"data": {"values": [{"k": "arrow"}]},
 "mark": {"type": "point", "shape": "triangle-down", "filled": true, "color": "#000", "opacity": 1, "size": 70, "angle": 332},
 "encoding": {"x": {"datum": 25.7}, "y": {"datum": 157}}}
]
},
{
"width": 341, "height": 231,
"data": {"values": [
{"x":0,"h":0,"f":0},{"x":2,"h":0,"f":0},{"x":4.4,"h":0,"f":0},{"x":4.5,"h":1400},{"x":6.6,"h":1400},{"x":6.7,"h":0},
{"x":8,"h":5,"f":4,"d":0},{"x":10,"h":32,"f":32,"d":32},{"x":12,"h":52,"f":50,"d":50},{"x":14,"h":68,"f":66,"d":66},
{"x":16,"h":80,"f":78,"d":78},{"x":18,"h":88,"f":88,"d":88},{"x":20,"h":96,"f":95,"d":95},{"x":22,"h":100,"f":100,"d":100},
{"x":24,"h":104,"f":104,"d":104},{"x":26,"h":102,"f":108,"d":108},{"x":28,"h":118,"f":111,"d":111},{"x":29,"h":130},
{"x":30,"h":128,"f":114,"d":114},{"x":32,"h":142,"f":117,"d":117},{"x":33,"h":155},{"x":34,"h":150,"f":120,"d":120},
{"x":36,"h":180,"f":122,"d":122},{"x":37,"h":172},{"x":38,"h":205,"f":125,"d":124,"g1":0,"s":0},
{"x":40,"h":235,"f":175,"d":126,"g1":20,"s":25},{"x":41,"h":225},{"x":42,"h":300,"f":270,"d":128,"g1":70,"s":70},
{"x":44,"h":480,"f":400,"d":130,"g1":140,"s":125},{"x":46,"h":690,"f":600,"d":131,"g1":225,"s":190},
{"x":48,"h":850,"f":780,"d":130,"g1":320,"s":290},{"x":50,"h":990,"f":890,"d":122,"g1":382,"s":385},
{"x":51,"h":1050},{"x":52,"h":1085,"f":940,"d":105,"g1":320,"s":490},{"x":53,"h":1140,"f":947},
{"x":54,"h":1080,"f":935,"d":85,"g1":200,"s":575},{"x":56,"h":880,"f":850,"d":62,"g1":120,"s":597},
{"x":58,"h":720,"f":710,"d":42,"g1":30,"s":585},{"x":60,"h":600,"f":590,"d":27,"g1":3,"s":548},
{"x":62,"h":500,"f":495,"d":16,"g1":0,"s":490},{"x":64,"h":400,"f":400,"d":9,"s":400},{"x":66,"h":320,"f":318,"d":4,"s":318},
{"x":68,"h":245,"f":250,"d":1,"s":248},{"x":70,"h":185,"f":190,"d":0,"s":185},{"x":72,"h":145,"f":150,"s":148},
{"x":74,"h":118,"f":122,"s":118},{"x":76,"h":100,"f":100,"s":95},{"x":78,"h":86,"f":85,"s":78},
{"x":80,"h":78,"f":76,"s":64,"a":0},{"x":82,"h":73,"f":70,"s":52,"a":8},{"x":84,"h":69,"f":66,"s":42,"a":15},
{"x":86,"h":64,"f":62,"s":34,"a":22},{"x":88,"h":61,"f":58,"s":27,"a":30},{"x":90,"h":57,"f":55,"s":20,"a":35},
{"x":92,"h":54,"f":52,"s":13,"a":40},{"x":94,"h":52,"f":49,"s":6,"a":42},{"x":96,"h":48,"f":46,"s":0,"a":42},
{"x":98,"h":45,"f":43,"a":41},{"x":100,"h":41,"f":40,"a":39},{"x":102,"h":37,"f":37,"a":36},{"x":104,"h":34,"f":34,"a":33},
{"x":106,"h":31,"f":31,"a":30},{"x":108,"h":28,"f":28,"a":27},{"x":110,"h":25,"f":25,"a":24},{"x":112,"h":22,"f":22,"a":21},
{"x":114,"h":19,"f":19,"a":18},{"x":116,"h":17,"f":17,"a":16},{"x":118,"h":15,"f":15,"a":14},{"x":120,"h":13,"f":13,"a":12},
{"x":122,"h":11,"f":11,"a":10},{"x":124,"h":9,"f":9,"a":8},{"x":126,"h":7,"f":7,"a":6},{"x":128,"h":6,"f":6,"a":5},
{"x":130,"h":4,"f":4,"a":3},{"x":132,"h":3,"f":3,"a":2},{"x":134,"h":1,"f":1,"a":1},{"x":136,"h":0,"f":0,"a":0},{"x":137,"h":0,"f":0}
]},
"layer": [
{"mark": {"type": "area", "interpolate": "monotone", "fill": "#a9a9ea", "stroke": "#666", "strokeWidth": 0.5},
 "encoding": {
  "x": {"field": "x", "type": "quantitative", "title": "Channels (FL2-A)", "scale": {"domain": [0, 137], "nice": false, "zero": false},
   "axis": {"values": [0,8,16,24,32,40,48,56,64,72,80,88,96,104,112,120,128,136], "labelExpr": "datum.value % 40 === 0 ? datum.label : ''", "labelPadding": -3, "titleX": 228, "titleY": 14.5}},
  "y": {"field": "d", "type": "quantitative", "title": "Number", "scale": {"domain": [0, 1194], "nice": false},
  "axis": {"values": [0,40,80,120,160,200,240,280,320,360,400,440,480,520,560,600,640,680,720,760,800,840,880,920,960,1000,1040,1080,1120,1160], "labelExpr": "datum.value % 200 === 0 ? datum.label : ''", "labelPadding": 18, "titleX": -36, "titleY": 115}}}},
{"mark": {"type": "area", "interpolate": "monotone", "fill": "#b0e8b0", "stroke": "#6a6", "strokeWidth": 0.5},
 "encoding": {"x": {"field": "x", "type": "quantitative", "title": "Channels (FL2-A)"}, "y": {"field": "a", "type": "quantitative", "title": "Number"}}},
{"mark": {"type": "area", "interpolate": "monotone", "fill": "#ff0000", "stroke": "#400000", "strokeWidth": 0.8},
 "encoding": {"x": {"field": "x", "type": "quantitative", "title": "Channels (FL2-A)"}, "y": {"field": "g1", "type": "quantitative", "title": "Number"}}},
{"mark": {"type": "area", "interpolate": "monotone", "fill": "#a9a9ea", "opacity": 0.45},
 "encoding": {"x": {"field": "x", "type": "quantitative", "title": "Channels (FL2-A)"}, "y": {"field": "d", "type": "quantitative", "title": "Number"}}},
{"mark": {"type": "area", "interpolate": "monotone", "stroke": "#333", "strokeWidth": 0.7,
  "fill": {"gradient": "linear", "x1": 0, "y1": 1, "x2": 0.726, "y2": -0.17, "stops": [
{"offset":0,"color":"rgba(60,60,200,0)"},{"offset":0.005,"color":"rgba(60,60,200,0.8)"},{"offset":0.01,"color":"rgba(60,60,200,0)"},{"offset":0.025,"color":"rgba(60,60,200,0)"},{"offset":0.03,"color":"rgba(60,60,200,0.8)"},{"offset":0.035,"color":"rgba(60,60,200,0)"},{"offset":0.05,"color":"rgba(60,60,200,0)"},{"offset":0.055,"color":"rgba(60,60,200,0.8)"},{"offset":0.06,"color":"rgba(60,60,200,0)"},{"offset":0.075,"color":"rgba(60,60,200,0)"},{"offset":0.08,"color":"rgba(60,60,200,0.8)"},{"offset":0.085,"color":"rgba(60,60,200,0)"},{"offset":0.1,"color":"rgba(60,60,200,0)"},{"offset":0.105,"color":"rgba(60,60,200,0.8)"},{"offset":0.11,"color":"rgba(60,60,200,0)"},{"offset":0.125,"color":"rgba(60,60,200,0)"},{"offset":0.13,"color":"rgba(60,60,200,0.8)"},{"offset":0.135,"color":"rgba(60,60,200,0)"},{"offset":0.15,"color":"rgba(60,60,200,0)"},{"offset":0.155,"color":"rgba(60,60,200,0.8)"},{"offset":0.16,"color":"rgba(60,60,200,0)"},{"offset":0.175,"color":"rgba(60,60,200,0)"},{"offset":0.18,"color":"rgba(60,60,200,0.8)"},{"offset":0.185,"color":"rgba(60,60,200,0)"},{"offset":0.2,"color":"rgba(60,60,200,0)"},{"offset":0.205,"color":"rgba(60,60,200,0.8)"},{"offset":0.21,"color":"rgba(60,60,200,0)"},{"offset":0.225,"color":"rgba(60,60,200,0)"},{"offset":0.23,"color":"rgba(60,60,200,0.8)"},{"offset":0.235,"color":"rgba(60,60,200,0)"},{"offset":0.25,"color":"rgba(60,60,200,0)"},{"offset":0.255,"color":"rgba(60,60,200,0.8)"},{"offset":0.26,"color":"rgba(60,60,200,0)"},{"offset":0.275,"color":"rgba(60,60,200,0)"},{"offset":0.28,"color":"rgba(60,60,200,0.8)"},{"offset":0.285,"color":"rgba(60,60,200,0)"},{"offset":0.3,"color":"rgba(60,60,200,0)"},{"offset":0.305,"color":"rgba(60,60,200,0.8)"},{"offset":0.31,"color":"rgba(60,60,200,0)"},{"offset":0.325,"color":"rgba(60,60,200,0)"},{"offset":0.33,"color":"rgba(60,60,200,0.8)"},{"offset":0.335,"color":"rgba(60,60,200,0)"},{"offset":0.35,"color":"rgba(60,60,200,0)"},{"offset":0.355,"color":"rgba(60,60,200,0.8)"},{"offset":0.36,"color":"rgba(60,60,200,0)"},{"offset":0.375,"color":"rgba(60,60,200,0)"},{"offset":0.38,"color":"rgba(60,60,200,0.8)"},{"offset":0.385,"color":"rgba(60,60,200,0)"},{"offset":0.4,"color":"rgba(60,60,200,0)"},{"offset":0.405,"color":"rgba(60,60,200,0.8)"},{"offset":0.41,"color":"rgba(60,60,200,0)"},{"offset":0.425,"color":"rgba(60,60,200,0)"},{"offset":0.43,"color":"rgba(60,60,200,0.8)"},{"offset":0.435,"color":"rgba(60,60,200,0)"},{"offset":0.45,"color":"rgba(60,60,200,0)"},{"offset":0.455,"color":"rgba(60,60,200,0.8)"},{"offset":0.46,"color":"rgba(60,60,200,0)"},{"offset":0.475,"color":"rgba(60,60,200,0)"},{"offset":0.48,"color":"rgba(60,60,200,0.8)"},{"offset":0.485,"color":"rgba(60,60,200,0)"},{"offset":0.5,"color":"rgba(60,60,200,0)"},{"offset":0.505,"color":"rgba(60,60,200,0.8)"},{"offset":0.51,"color":"rgba(60,60,200,0)"},{"offset":0.525,"color":"rgba(60,60,200,0)"},{"offset":0.53,"color":"rgba(60,60,200,0.8)"},{"offset":0.535,"color":"rgba(60,60,200,0)"},{"offset":0.55,"color":"rgba(60,60,200,0)"},{"offset":0.555,"color":"rgba(60,60,200,0.8)"},{"offset":0.56,"color":"rgba(60,60,200,0)"},{"offset":0.575,"color":"rgba(60,60,200,0)"},{"offset":0.58,"color":"rgba(60,60,200,0.8)"},{"offset":0.585,"color":"rgba(60,60,200,0)"},{"offset":0.6,"color":"rgba(60,60,200,0)"},{"offset":0.605,"color":"rgba(60,60,200,0.8)"},{"offset":0.61,"color":"rgba(60,60,200,0)"},{"offset":0.625,"color":"rgba(60,60,200,0)"},{"offset":0.63,"color":"rgba(60,60,200,0.8)"},{"offset":0.635,"color":"rgba(60,60,200,0)"},{"offset":0.65,"color":"rgba(60,60,200,0)"},{"offset":0.655,"color":"rgba(60,60,200,0.8)"},{"offset":0.66,"color":"rgba(60,60,200,0)"},{"offset":0.675,"color":"rgba(60,60,200,0)"},{"offset":0.68,"color":"rgba(60,60,200,0.8)"},{"offset":0.685,"color":"rgba(60,60,200,0)"},{"offset":0.7,"color":"rgba(60,60,200,0)"},{"offset":0.705,"color":"rgba(60,60,200,0.8)"},{"offset":0.71,"color":"rgba(60,60,200,0)"},{"offset":0.725,"color":"rgba(60,60,200,0)"},{"offset":0.73,"color":"rgba(60,60,200,0.8)"},{"offset":0.735,"color":"rgba(60,60,200,0)"},{"offset":0.75,"color":"rgba(60,60,200,0)"},{"offset":0.755,"color":"rgba(60,60,200,0.8)"},{"offset":0.76,"color":"rgba(60,60,200,0)"},{"offset":0.775,"color":"rgba(60,60,200,0)"},{"offset":0.78,"color":"rgba(60,60,200,0.8)"},{"offset":0.785,"color":"rgba(60,60,200,0)"},{"offset":0.8,"color":"rgba(60,60,200,0)"},{"offset":0.805,"color":"rgba(60,60,200,0.8)"},{"offset":0.81,"color":"rgba(60,60,200,0)"},{"offset":0.825,"color":"rgba(60,60,200,0)"},{"offset":0.83,"color":"rgba(60,60,200,0.8)"},{"offset":0.835,"color":"rgba(60,60,200,0)"},{"offset":0.85,"color":"rgba(60,60,200,0)"},{"offset":0.855,"color":"rgba(60,60,200,0.8)"},{"offset":0.86,"color":"rgba(60,60,200,0)"},{"offset":0.875,"color":"rgba(60,60,200,0)"},{"offset":0.88,"color":"rgba(60,60,200,0.8)"},{"offset":0.885,"color":"rgba(60,60,200,0)"},{"offset":0.9,"color":"rgba(60,60,200,0)"},{"offset":0.905,"color":"rgba(60,60,200,0.8)"},{"offset":0.91,"color":"rgba(60,60,200,0)"},{"offset":0.925,"color":"rgba(60,60,200,0)"},{"offset":0.93,"color":"rgba(60,60,200,0.8)"},{"offset":0.935,"color":"rgba(60,60,200,0)"},{"offset":0.95,"color":"rgba(60,60,200,0)"},{"offset":0.955,"color":"rgba(60,60,200,0.8)"},{"offset":0.96,"color":"rgba(60,60,200,0)"},{"offset":0.975,"color":"rgba(60,60,200,0)"},{"offset":0.98,"color":"rgba(60,60,200,0.8)"},{"offset":0.985,"color":"rgba(60,60,200,0)"},{"offset":1,"color":"rgba(60,60,200,0)"}]}},
 "encoding": {"x": {"field": "x", "type": "quantitative", "title": "Channels (FL2-A)"}, "y": {"field": "s", "type": "quantitative", "title": "Number"}}},
{"mark": {"type": "line", "interpolate": "monotone", "color": "#111", "strokeWidth": 1.3},
 "encoding": {"x": {"field": "x", "type": "quantitative", "title": "Channels (FL2-A)"}, "y": {"field": "f", "type": "quantitative", "title": "Number"}}},
{"mark": {"type": "line", "color": "#000", "strokeWidth": 1, "clip": true},
 "encoding": {"x": {"field": "x", "type": "quantitative", "title": "Channels (FL2-A)"}, "y": {"field": "h", "type": "quantitative", "title": "Number"}}},
{"data": {"values": [{"t": "AAP+CIS"}]},
 "mark": {"type": "text", "align": "left", "baseline": "alphabetic", "font": "Lato", "fontSize": 17.5, "fontWeight": "bold", "color": "#000"},
 "encoding": {"x": {"datum": 9.1}, "y": {"datum": 1102}, "text": {"field": "t"}}},
{"data": {"values": [{"t": "subG₁: 24.1%"}]},
 "mark": {"type": "text", "align": "left", "baseline": "alphabetic", "font": "Lato", "fontSize": 16.5, "fontWeight": "bold", "color": "#000"},
 "encoding": {"x": {"datum": 66}, "y": {"datum": 1097}, "text": {"field": "t"}}},
{"data": {"values": [{"t": "G₀/G₁: 27.5%\nG₂/M: 0.0%\nS phase: 72.5%"}]},
 "mark": {"type": "text", "align": "left", "baseline": "alphabetic", "font": "Lato", "fontSize": 12, "color": "#333", "lineBreak": "\n", "lineHeight": 14.2},
 "encoding": {"x": {"datum": 72}, "y": {"datum": 982}, "text": {"field": "t"}}},
{"data": {"values": [{"k": "arrow"}]},
 "mark": {"type": "rule", "color": "#000", "strokeWidth": 2.5},
 "encoding": {"x": {"datum": 17.6}, "y": {"datum": 313}, "x2": {"datum": 22.7}, "y2": {"datum": 192}}},
{"data": {"values": [{"k": "arrow"}]},
 "mark": {"type": "point", "shape": "triangle-down", "filled": true, "color": "#000", "opacity": 1, "size": 70, "angle": 331},
 "encoding": {"x": {"datum": 22.7}, "y": {"datum": 192}}}
]
}
],
"config": {
 "view": {"stroke": null},
 "mark": {"invalid": "filter"},
 "axis": {"grid": false, "domainColor": "#000", "domainWidth": 1, "tickColor": "#333", "tickSize": 4, "tickCount": 200, "format": "d", "labelColor": "#555", "titleColor": "#555", "titleFontWeight": "normal", "titleAlign": "center", "titleBaseline": "middle", "labelOverlap": false, "labelFlush": false, "labelBound": false},
 "axisX": {"labelFont": "Liberation Sans", "labelFontSize": 9, "titleFont": "DejaVu Sans", "titleFontSize": 9.5, "format": "d"},
 "axisY": {"labelFont": "Liberation Sans Narrow", "labelFontSize": 8, "labelColor": "#444", "labelAngle": -90, "labelAlign": "center", "labelBaseline": "bottom", "format": "d", "titleFont": "DejaVu Sans", "titleFontSize": 9, "titleAngle": -90}
}
}
